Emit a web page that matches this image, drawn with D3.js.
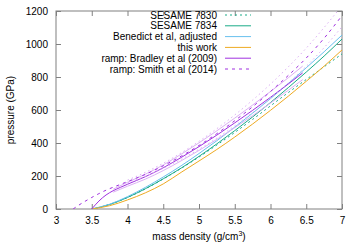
<!DOCTYPE html>
<html>
<head>
<meta charset="utf-8">
<script src="https://cdn.jsdelivr.net/npm/d3@7"></script>
<style>
  body { margin: 0; background: #fff; }
  svg { font-family: "Liberation Sans", Arial, sans-serif; }
</style>
</head>
<body>
<svg id="chart" width="360" height="252"></svg>
<script>
// densities (g/cm3) and pressures (GPa)
var sesame7830 = [[3.5,0],[3.75,28],[4,70],[4.25,122],[4.5,182],[4.75,246],[5,315],[5.25,388],[5.5,464],[5.75,543],[6,625],[6.25,706],[6.5,785],[6.75,862],[7,940]];
var sesame7834 = [[3.5,0],[3.75,27],[4,70],[4.25,123],[4.5,183],[4.75,248],[5,319],[5.25,395],[5.5,475],[5.75,558],[6,645],[6.25,736],[6.5,830],[6.75,927],[7,1030]];
var benedict = [[3.5,0],[3.75,29],[4,75],[4.25,131],[4.5,194],[4.75,262],[5,336],[5.25,414],[5.5,496],[5.75,581],[6,669],[6.25,761],[6.5,856],[6.75,953],[7,1054]];
var thisWork = [[3.5,0],[3.75,20],[4,55],[4.25,98],[4.5,152],[4.75,222],[5,291],[5.25,361],[5.5,436],[5.75,515],[6,598],[6.25,684],[6.5,774],[6.75,866],[7,964]];
var bradley = [[3.5,0],[3.55,25],[3.6,48],[3.65,68],[3.7,85],[3.75,99],[3.8,111],[3.9,131],[4,150],[4.25,196],[4.5,250],[4.75,312],[5,378],[5.25,448],[5.5,522],[5.75,598],[6,677],[6.25,758],[6.45,825]];
var bradleyLo = [[3.8,102],[4,138],[4.25,181],[4.5,233],[4.75,292],[5,355],[5.25,422],[5.5,493],[5.75,566],[6,642],[6.25,720],[6.45,784]];
var bradleyHi = [[3.8,120],[4,162],[4.25,211],[4.5,267],[4.75,332],[5,401],[5.25,474],[5.5,551],[5.75,630],[6,712],[6.25,796],[6.45,866]];
var smith = [[3.24,0],[3.3,18],[3.4,45],[3.5,70],[3.6,93],[3.7,114],[3.8,132],[3.9,149],[4,166],[4.25,210],[4.5,262],[4.75,320],[5,385],[5.25,457],[5.5,535],[5.75,620],[6,712],[6.25,810],[6.5,915],[6.75,1035],[7,1172]];
var smithLo = [[4,158],[4.25,199],[4.5,247],[4.75,301],[5,362],[5.25,430],[5.5,504],[5.75,585],[6,672],[6.25,765],[6.5,865],[6.75,978],[7,1105]];
var smithHi = [[4,175],[4.25,222],[4.5,277],[4.75,340],[5,410],[5.25,487],[5.5,570],[5.75,660],[6,757],[6.25,862],[6.5,975],[6.75,1100],[6.94,1200]];

var xTicks = [3, 3.5, 4, 4.5, 5, 5.5, 6, 6.5, 7];
var yTicks = [0, 200, 400, 600, 800, 1000, 1200];

var green = "#1aab88", blue = "#68c0ee", orange = "#eeaa22", purple = "#a030e0", lilac = "#dcb0f4";

var series = [
    { name: "SESAME 7830", data: sesame7830, color: green, dash: "2,3", legend: true },
    { name: "SESAME 7834", data: sesame7834, color: green, dash: null, legend: true },
    { name: "Benedict et al, adjusted", data: benedict, color: blue, dash: null, legend: true },
    { name: "this work", data: thisWork, color: orange, dash: null, legend: true },
    { name: "bradley lo", data: bradleyLo, color: lilac, dash: null, legend: false },
    { name: "bradley hi", data: bradleyHi, color: lilac, dash: null, legend: false },
    { name: "ramp: Bradley et al (2009)", data: bradley, color: purple, dash: null, legend: true },
    { name: "smith lo", data: smithLo, color: lilac, dash: "1.5,3", legend: false },
    { name: "smith hi", data: smithHi, color: lilac, dash: "1.5,3", legend: false },
    { name: "ramp: Smith et al (2014)", data: smith, color: purple, dash: "3,4", legend: true }
];

var margin = { left: 56, right: 18, top: 11, bottom: 43 };
var width = 360 - margin.left - margin.right;
var height = 252 - margin.top - margin.bottom;

var svg = d3.select("#chart");
var g = svg.append("g").attr("transform", "translate(" + margin.left + "," + margin.top + ")");

var x = d3.scaleLinear().domain([3, 7]).range([0, width]);
var y = d3.scaleLinear().domain([0, 1200]).range([height, 0]);

var frameColor = "#808080";

// ticks on all four sides, pointing inward
g.append("g").attr("transform", "translate(0," + height + ")")
    .call(d3.axisBottom(x).tickValues(xTicks).tickSizeInner(-5).tickSizeOuter(0).tickPadding(8).tickFormat(d3.format("")));
g.append("g")
    .call(d3.axisTop(x).tickValues(xTicks).tickSizeInner(-5).tickSizeOuter(0).tickFormat(""));
g.append("g")
    .call(d3.axisLeft(y).tickValues(yTicks).tickSizeInner(-5).tickSizeOuter(0).tickPadding(8).tickFormat(d3.format("d")));
g.append("g").attr("transform", "translate(" + width + ",0)")
    .call(d3.axisRight(y).tickValues(yTicks).tickSizeInner(-5).tickSizeOuter(0).tickFormat(""));

g.selectAll(".domain").remove();
g.selectAll(".tick line").attr("stroke", frameColor);
g.selectAll(".tick text").attr("fill", "#000").style("font-size", "10px")
    .style("font-family", "Liberation Sans, Arial, sans-serif");

g.append("rect")
    .attr("width", width).attr("height", height)
    .attr("fill", "none").attr("stroke", frameColor).attr("stroke-width", 1);

var line = d3.line().x(function (d) { return x(d[0]); }).y(function (d) { return y(d[1]); })
    .curve(d3.curveMonotoneX);

var plot = g.append("g");
plot.append("clipPath").attr("id", "clip").append("rect").attr("width", width).attr("height", height);

plot.selectAll(".curve")
    .data(series)
    .enter()
    .append("path")
    .attr("class", "curve")
    .attr("clip-path", "url(#clip)")
    .attr("d", function (d) { return line(d.data); })
    .attr("fill", "none")
    .attr("stroke", function (d) { return d.color; })
    .attr("stroke-width", 1)
    .attr("stroke-dasharray", function (d) { return d.dash; });

// legend
var legendItems = series.filter(function (d) { return d.legend; });
var legend = g.append("g").attr("transform", "translate(0,4)");
var rowH = 10.8;
legend.selectAll(".leg-text")
    .data(legendItems)
    .enter()
    .append("text")
    .attr("x", 161)
    .attr("y", function (d, i) { return i * rowH + 3.5; })
    .attr("text-anchor", "end")
    .style("font-size", "10px")
    .text(function (d) { return d.name; });
legend.selectAll(".leg-line")
    .data(legendItems)
    .enter()
    .append("line")
    .attr("x1", 169).attr("x2", 195)
    .attr("y1", function (d, i) { return i * rowH; })
    .attr("y2", function (d, i) { return i * rowH; })
    .attr("stroke", function (d) { return d.color; })
    .attr("stroke-width", 1)
    .attr("stroke-dasharray", function (d) { return d.dash; });

// axis titles
var xt = svg.append("text")
    .attr("x", margin.left + width / 2)
    .attr("y", 240)
    .attr("text-anchor", "middle")
    .style("font-size", "10px")
    .text("mass density (g/cm");
xt.append("tspan").attr("dy", -4).style("font-size", "7px").text("3");
xt.append("tspan").attr("dy", 4).text(")");

svg.append("text")
    .attr("transform", "translate(14," + (margin.top + height / 2) + ") rotate(-90)")
    .attr("text-anchor", "middle")
    .style("font-size", "10px")
    .text("pressure (GPa)");
</script>
</body>
</html>
